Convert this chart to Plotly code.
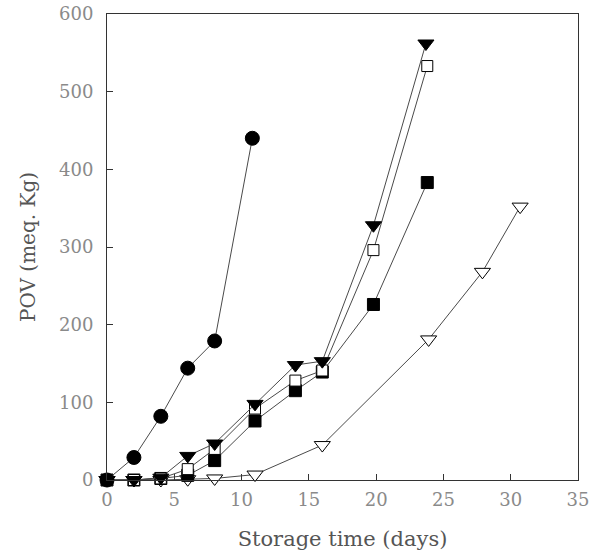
import plotly.graph_objects as go

# Data
x_circle = [0, 2, 4, 6, 8, 10.8]
y_circle = [0, 29, 82, 144, 179, 440]

x_tri_filled = [0, 2, 4, 6, 8, 11, 14, 16, 19.8, 23.7]
y_tri_filled = [0, 0, 3, 31, 47, 98, 148, 153, 328, 562]

x_sq_open = [0, 2, 4, 6, 8, 11, 14, 16, 19.8, 23.8]
y_sq_open = [0, 0, 2, 14, 40, 92, 128, 141, 296, 533]

x_sq_filled = [0, 2, 4, 6, 8, 11, 14, 16, 19.8, 23.8]
y_sq_filled = [0, 0, 2, 6, 25, 76, 115, 139, 226, 383]

x_tri_open = [0, 2, 4, 6, 8, 11, 16, 23.9, 27.9, 30.7]
y_tri_open = [0, 0, 0, 1, 2, 7, 45, 181, 268, 352]

x_ticks = [0, 5, 10, 15, 20, 25, 30, 35]
y_ticks = [0, 100, 200, 300, 400, 500, 600]

line_col = "#4a4a4a"

fig = go.Figure()

def add(xs, ys, symbol, size, fill):
    fig.add_trace(go.Scatter(
        x=xs, y=ys, mode="lines+markers",
        line=dict(color=line_col, width=1),
        marker=dict(symbol=symbol, size=size, color=fill,
                    line=dict(color="black", width=1)),
        cliponaxis=False, showlegend=False, hoverinfo="skip"))

add(x_tri_open, y_tri_open, "triangle-down", 14, "white")
add(x_sq_filled, y_sq_filled, "square", 12, "black")
add(x_sq_open, y_sq_open, "square", 11, "white")
add(x_tri_filled, y_tri_filled, "triangle-down", 14, "black")
add(x_circle, y_circle, "circle", 14, "black")

axis_common = dict(
    showgrid=False, zeroline=False, showline=True, linecolor="#333333",
    linewidth=1, mirror=True, ticks="inside", ticklen=6, tickcolor="#333333",
    automargin=False,
    tickfont=dict(family="DejaVu Serif", size=18, color="#8a8a8a"),
)

fig.update_xaxes(range=[0, 35], tickvals=x_ticks, ticktext=[str(v) for v in x_ticks],
                 ticklabelstandoff=3,
                 title=dict(text="Storage time (days)", standoff=22,
                            font=dict(family="DejaVu Serif", size=21, color="#555555")),
                 **axis_common)
fig.update_yaxes(range=[0, 600], tickvals=y_ticks, ticktext=[str(v) for v in y_ticks],
                 ticklabelstandoff=9,
                 title=dict(text="POV (meq. Kg)", standoff=18,
                            font=dict(family="DejaVu Serif", size=20, color="#555555")),
                 **axis_common)

fig.update_layout(
    width=605, height=554,
    margin=dict(l=107, r=27, t=14, b=74, autoexpand=False),
    plot_bgcolor="white", paper_bgcolor="white",
)

# remove the default page margin so the figure fills the 605x554 window exactly
fig.write_html("out.html",
               config={"displayModeBar": False},
               post_script="document.body.style.margin='0';document.body.style.overflow='hidden';")
